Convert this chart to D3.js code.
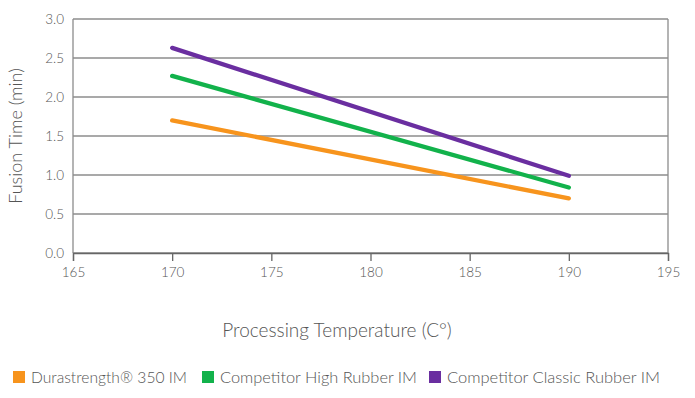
<!DOCTYPE html>
<html>
<head>
<meta charset="utf-8">
<script src="https://cdn.jsdelivr.net/npm/d3@7"></script>
<style>
  body { margin: 0; background: #fff; }
  svg text { font-family: "Lato", "Open Sans", sans-serif; font-weight: 300; fill: #555; }
</style>
</head>
<body>
<div id="chart"></div>
<script>
var temps = [170, 190];
var durastrength = [1.70, 0.70];
var highRubber = [2.27, 0.84];
var classicRubber = [2.63, 0.99];
var seriesNames = ["Durastrength® 350 IM", "Competitor High Rubber IM", "Competitor Classic Rubber IM"];
var xTicks = [165, 170, 175, 180, 185, 190, 195];
var yTicks = [0, 0.5, 1.0, 1.5, 2.0, 2.5, 3.0];

var colors = ["#f7941d", "#12b24b", "#6a2ea0"];
var w = 695, h = 398;
var plotL = 73, plotR = 668, plotT = 19, plotB = 253;

var svg = d3.select("#chart").append("svg").attr("width", w).attr("height", h);

var x = d3.scaleLinear().domain([165, 195]).range([plotL, plotR]);
var y = d3.scaleLinear().domain([0, 3]).range([plotB, plotT]);

// grid lines
svg.selectAll(".grid").data(yTicks).enter()
    .append("line")
    .attr("x1", plotL).attr("x2", plotR)
    .attr("y1", d => y(d)).attr("y2", d => y(d))
    .attr("stroke", "#8c8c8c").attr("stroke-width", 1.3);

// left + right border
svg.append("line").attr("x1", plotL).attr("x2", plotL).attr("y1", plotT).attr("y2", plotB)
    .attr("stroke", "#8c8c8c").attr("stroke-width", 1.3);
svg.append("line").attr("x1", plotR).attr("x2", plotR).attr("y1", plotT).attr("y2", plotB)
    .attr("stroke", "#8c8c8c").attr("stroke-width", 1.3);

// x axis
var xAxis = svg.append("g").attr("transform", "translate(0," + plotB + ")")
    .call(d3.axisBottom(x).tickValues(xTicks).tickSize(8).tickPadding(6).tickFormat(d3.format("d")));
xAxis.select(".domain").attr("stroke", "#666").attr("stroke-width", 1.3);
xAxis.selectAll(".tick line").attr("stroke", "#666").attr("stroke-width", 1.3);
xAxis.selectAll("text").style("font-size", "13.5px").attr("fill", "#555");

// y axis labels
var yAxis = svg.append("g").attr("transform", "translate(" + plotL + ",0)")
    .call(d3.axisLeft(y).tickValues(yTicks).tickSize(0).tickPadding(9).tickFormat(d3.format(".1f")));
yAxis.select(".domain").remove();
yAxis.selectAll("text").style("font-size", "13.5px").attr("fill", "#555");

// series lines
var allSeries = [durastrength, highRubber, classicRubber];
var line = d3.line().x((d, i) => x(temps[i])).y(d => y(d));
svg.selectAll(".series").data(allSeries).enter()
    .append("path")
    .attr("d", line)
    .attr("fill", "none")
    .attr("stroke", (d, i) => colors[i])
    .attr("stroke-width", 4.3)
    .attr("stroke-linecap", "round");

// axis titles
svg.append("text")
    .attr("x", 337).attr("y", 337)
    .attr("text-anchor", "middle")
    .style("font-size", "19px")
    .text("Processing Temperature (C°)");
svg.append("text")
    .attr("transform", "translate(22," + ((plotT + plotB) / 2) + ") rotate(-90)")
    .attr("text-anchor", "middle")
    .style("font-size", "18px")
    .text("Fusion Time (min)");

// legend
var legendX = [13, 202, 429];
var legendW = [156, 197, 213];
var lg = svg.selectAll(".legend").data(seriesNames).enter()
    .append("g")
    .attr("transform", (d, i) => "translate(" + legendX[i] + ",383)");
lg.append("rect").attr("x", 0).attr("y", -12).attr("width", 12).attr("height", 12)
    .attr("fill", (d, i) => colors[i]);
lg.append("text").attr("x", 18).attr("y", 0)
    .style("font-size", "16.5px")
    .attr("textLength", (d, i) => legendW[i])
    .attr("lengthAdjust", "spacingAndGlyphs")
    .text(d => d);
</script>
</body>
</html>
